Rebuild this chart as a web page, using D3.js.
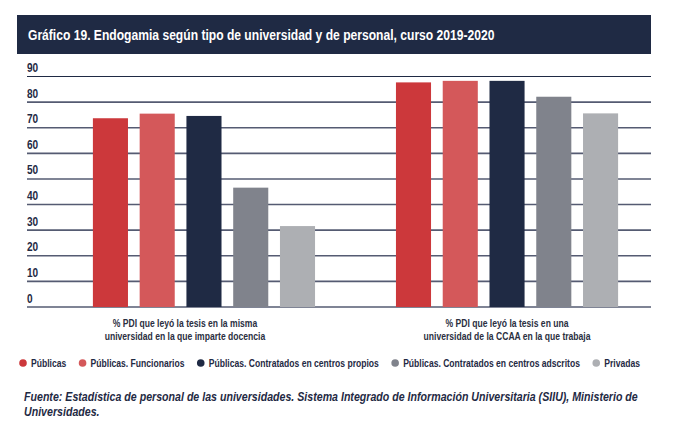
<html>
  <head>
    <meta charset="utf-8">
    <title>Gráfico 19 | Endogamia</title>
    <script src="https://cdn.jsdelivr.net/npm/d3@7"></script>
    <style>
     body { margin: 0; background: #fff; }
     svg text {
       font-family: "Liberation Sans", Arial, sans-serif;
       font-weight: bold;
     }
     .grid line { stroke: #555b72; stroke-width: 1.6px; }
     .grid line.top { stroke: #1f2a44; stroke-width: 1.2px; }
    </style>
  </head>
  <body>
    <svg id="chart" width="680" height="435"></svg>
    <script>
     var title = "Gráfico 19. Endogamia según tipo de universidad y de personal, curso 2019-2020";

     var groups = [
       ["% PDI que leyó la tesis en la misma", "universidad en la que imparte docencia"],
       ["% PDI que leyó la tesis en una", "universidad de la CCAA en la que trabaja"]
     ];

     var series = [
       "Públicas",
       "Públicas. Funcionarios",
       "Públicas. Contratados en centros propios",
       "Públicas. Contratados en centros adscritos",
       "Privadas"
     ];

     var colors = ["#cc383b", "#d4585a", "#1f2a44", "#80838c", "#adafb3"];

     // one row per group, one value per series
     var values = [
       [73.7, 75.5, 74.6, 46.6, 31.6],
       [87.7, 88.3, 88.3, 82.1, 75.6]
     ];

     var yTicks = [0, 10, 20, 30, 40, 50, 60, 70, 80, 90];

     var source = [
       "Fuente: Estadística de personal de las universidades. Sistema Integrado de Información Universitaria (SIIU), Ministerio de",
       "Universidades."
     ];

     var svg = d3.select("#chart");

     var left = 27, right = 651;

     // the original uses a condensed face; squeeze a normal one horizontally
     var place = function(sel, x, y, k) {
       sel.attr("transform", "translate(" + x + "," + y + ") scale(" + k + ",1)");
     };
     var fitK = function(node, target) {
       return target / node.getComputedTextLength();
     };

     var y = d3.scaleLinear()
               .domain([0, 90])
               .range([307, 76.5]);

     var x0 = d3.scaleBand()
                .domain(d3.range(groups.length))
                .range([left, right])
                .paddingInner(0.267)
                .paddingOuter(0.163)
                .align(0.667);

     var x1 = d3.scaleBand()
                .domain(d3.range(series.length))
                .range([0, x0.bandwidth()])
                .paddingInner(0.25);

     // title band
     svg.append("rect")
        .attr("x", 17)
        .attr("y", 15)
        .attr("width", right - 17)
        .attr("height", 39)
        .attr("fill", "#1f2a44");

     var t = svg.append("text")
                .attr("fill", "#fff")
                .style("font-size", "15.5px")
                .text(title);
     place(t, 28, 40, fitK(t.node(), 467));

     // grid + tick labels
     var grid = svg.append("g").attr("class", "grid");
     grid.selectAll("line")
         .data(yTicks)
         .enter().append("line")
         .attr("class", function(d) { return d === 90 ? "top" : null; })
         .attr("x1", left)
         .attr("x2", right)
         .attr("y1", function(d) { return y(d); })
         .attr("y2", function(d) { return y(d); });

     svg.append("g")
        .selectAll("text")
        .data(yTicks)
        .enter().append("text")
        .attr("fill", "#1f2a44")
        .style("font-size", "12px")
        .text(function(d) { return d; })
        .each(function(d) { place(d3.select(this), left, y(d) - 4.5, 0.84); });

     // bars
     var g = svg.append("g")
                .selectAll("g")
                .data(values)
                .enter().append("g")
                .attr("transform", function(d, i) { return "translate(" + x0(i) + ",0)"; });

     g.selectAll("rect")
      .data(function(d) { return d; })
      .enter().append("rect")
      .attr("x", function(d, i) { return x1(i); })
      .attr("width", x1.bandwidth())
      .attr("y", function(d) { return y(d); })
      .attr("height", function(d) { return y(0) - y(d); })
      .attr("fill", function(d, i) { return colors[i]; });

     // category labels (the first one sits a bit left of its bars in the original)
     var catK = 0.78;
     svg.append("g")
        .selectAll("text")
        .data(groups)
        .enter().append("text")
        .attr("text-anchor", "middle")
        .attr("fill", "#2b2f3f")
        .style("font-size", "11px")
        .each(function(d, i) {
          var el = d3.select(this);
          d.forEach(function(line, j) {
            el.append("tspan")
              .attr("x", 0)
              .attr("dy", j ? 13 : 0)
              .text(line);
          });
          var cx = x0(i) + x0.bandwidth() / 2 - (i === 0 ? 19 : 0);
          place(el, cx, 327, catK);
        });

     // legend, spread between the first dot and the right end of the last label
     var legK = 0.78;
     var items = svg.append("g")
                    .selectAll("g")
                    .data(series)
                    .enter().append("g");
     items.append("circle")
          .attr("r", 3.8)
          .attr("fill", function(d, i) { return colors[i]; });
     items.append("text")
          .attr("fill", "#1f2a44")
          .style("font-size", "11px")
          .text(function(d) { return d; })
          .each(function() { place(d3.select(this), 8, 3.8, legK); });

     var widths = [];
     items.select("text").each(function() { widths.push(this.getComputedTextLength() * legK + 8); });
     var lx0 = 23, lx1 = 640;
     var gap = (lx1 - lx0 - d3.sum(widths)) / (series.length - 1);
     var cur = lx0;
     items.attr("transform", function(d, i) {
       var tr = "translate(" + cur + ",363)";
       cur += widths[i] + gap;
       return tr;
     });

     // source
     var src = svg.append("text")
                  .attr("fill", "#1f2a44")
                  .style("font-size", "12px")
                  .style("font-style", "italic");
     source.forEach(function(line, j) {
       src.append("tspan")
          .attr("x", 0)
          .attr("dy", j ? 15 : 0)
          .text(line);
     });
     var first = src.select("tspan").node();
     place(src, 24, 401, 614 / first.getComputedTextLength());
    </script>
  </body>
</html>
